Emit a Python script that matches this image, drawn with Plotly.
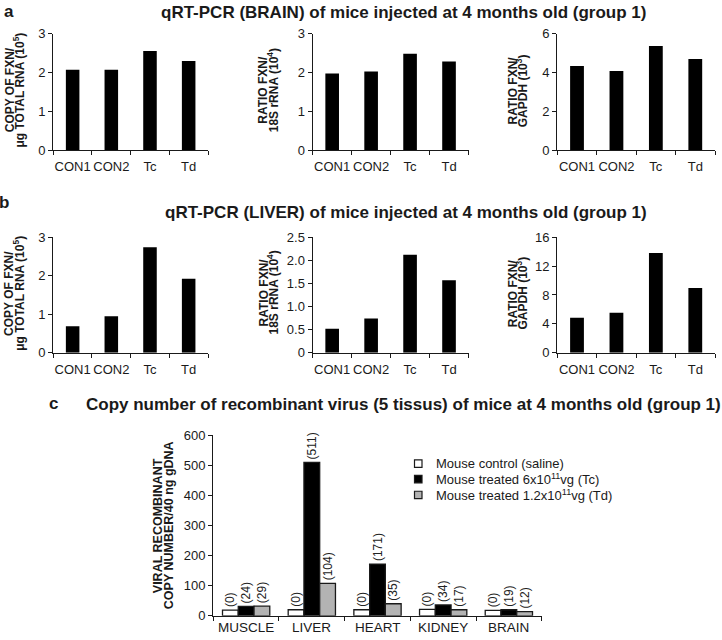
import plotly.graph_objects as go

W, H = 722, 640

# ---------------- data ----------------
groups = ["CON1", "CON2", "Tc", "Td"]
brain_copy = [2.07, 2.07, 2.55, 2.29]      # copy FXN / ug total RNA (10^5)
brain_18s = [1.97, 2.02, 2.48, 2.28]       # ratio FXN / 18S rRNA (10^4)
brain_gapdh = [4.33, 4.07, 5.36, 4.69]     # ratio FXN / GAPDH (10^3)
liver_copy = [0.69, 0.95, 2.74, 1.92]
liver_18s = [0.52, 0.74, 2.12, 1.57]
liver_gapdh = [4.85, 5.55, 13.8, 8.95]

tissues = ["MUSCLE", "LIVER", "HEART", "KIDNEY", "BRAIN"]
ctrl_height = [19, 20, 20, 21, 18]
tc_height = [31, 510, 172, 36, 20]
td_height = [32, 108, 40, 20, 14]
ctrl_labels = ["(0)", "(0)", "(0)", "(0)", "(0)"]
tc_labels = ["(24)", "(511)", "(171)", "(34)", "(19)"]
td_labels = ["(29)", "(104)", "(35)", "(17)", "(12)"]

legend_names = ["Mouse control (saline)",
                "Mouse treated 6x10<sup>11</sup>vg (Tc)",
                "Mouse treated 1.2x10<sup>11</sup>vg (Td)"]

# ---------------- helpers ----------------
FONT = "Liberation Sans, Arial, sans-serif"
INK = "#1a1a1a"


def px(x):
    return x / W


def fy(y):
    # the page photo is taken with a small vertical inset; pre-compensate
    return y * 656 / 640 - 8


def py(y):
    return 1 - fy(y) / H


fig = go.Figure()

panels = [
    # (values, axis index, x-domain px, y-domain px, yrange, tickvals, ticktext)
    (brain_copy, 1, (53.3, 208.0), (34.3, 150.7), [0, 3], [0, 1, 2, 3], None),
    (brain_18s, 2, (312.7, 468.5), (34.3, 150.7), [0, 3], [0, 1, 2, 3], None),
    (brain_gapdh, 3, (557.3, 715.0), (34.3, 150.7), [0, 6], [0, 2, 4, 6], None),
    (liver_copy, 4, (53.3, 208.0), (237.7, 353.3), [0, 3], [0, 1, 2, 3], None),
    (liver_18s, 5, (312.7, 468.5), (237.7, 353.3), [0, 2.5],
     [0, 0.5, 1, 1.5, 2, 2.5], ["0", "0.5", "1.0", "1.5", "2.0", "2.5"]),
    (liver_gapdh, 6, (557.3, 715.0), (237.7, 353.3), [0, 16], [0, 4, 8, 12, 16], None),
]

axis_common = dict(showline=True, linecolor=INK, linewidth=1.3, ticks="outside",
                   ticklen=4, tickwidth=1.2, tickcolor=INK, showgrid=False,
                   zeroline=False, fixedrange=True, tickangle=0,
                   tickfont=dict(family=FONT, size=13, color=INK))

layout_axes = {}
for vals, i, xd, yd, yr, tv, tt in panels:
    xa = "x" if i == 1 else f"x{i}"
    ya = "y" if i == 1 else f"y{i}"
    fig.add_trace(go.Bar(x=groups, y=vals, xaxis=xa, yaxis=ya, width=0.35,
                         marker=dict(color="black", line=dict(width=0)),
                         showlegend=False, hoverinfo="skip"))
    xk = "xaxis" if i == 1 else f"xaxis{i}"
    yk = "yaxis" if i == 1 else f"yaxis{i}"
    layout_axes[xk] = dict(axis_common, type="category", tickson="boundaries",
                           domain=[px(xd[0]), px(xd[1])], anchor=ya,
                           range=[-0.5, 3.5], ticklabelstandoff=4)
    yd_ = dict(axis_common, domain=[py(yd[1]), py(yd[0])], anchor=xa,
               range=yr, tickvals=tv)
    if tt:
        yd_["ticktext"] = tt
    layout_axes[yk] = yd_

# panel c
series = [
    (ctrl_height, ctrl_labels, "white", -0.36),
    (tc_height, tc_labels, "black", -0.12),
    (td_height, td_labels, "#b3b3b3", 0.12),
]
for h, lab, col, off in series:
    fig.add_trace(go.Bar(x=tissues, y=h, xaxis="x7", yaxis="y7",
                         width=0.24, offset=off,
                         marker=dict(color=col, line=dict(color=INK, width=1.3)),
                         text=lab, textposition="outside", textangle=-90,
                         constraintext="none", cliponaxis=False,
                         textfont=dict(family=FONT, size=12, color="#222"),
                         showlegend=False, hoverinfo="skip"))

layout_axes["xaxis7"] = dict(axis_common, type="category", tickson="boundaries",
                             domain=[px(213.3), px(541.7)], anchor="y7",
                             range=[-0.5, 4.5], showticklabels=False)
layout_axes["yaxis7"] = dict(axis_common, domain=[py(616.0), py(435.7)],
                             anchor="x7", range=[0, 600],
                             tickvals=[0, 100, 200, 300, 400, 500, 600])

annotations = []


def ann(text, x, y, size, angle=0, xanchor="center", bold=True):
    annotations.append(dict(text=f"<b>{text}</b>" if bold else text,
                            x=px(x), y=py(y), xref="paper", yref="paper",
                            showarrow=False, textangle=angle,
                            xanchor=xanchor, yanchor="middle",
                            font=dict(family=FONT, size=size, color=INK)))


# panel letters and titles
ann("a", 8.5, 12.7, 17)
ann("qRT-PCR (BRAIN) of mice injected at 4 months old (group 1)", 403.5, 13.7, 17)
ann("b", 4, 203, 17)
ann("qRT-PCR (LIVER) of mice injected at 4 months old (group 1)", 405.5, 213, 17)
ann("c", 53.5, 404, 17)
ann("Copy number of recombinant virus (5 tissus) of mice at 4 months old (group 1)",
    403.5, 405, 17)

# category labels of panel c (kept inside the photographed area)
for t in tissues:
    annotations.append(dict(text=t, x=t, xref="x7", y=1 - 635 / H, yref="paper",
                            showarrow=False, xanchor="center", yanchor="middle",
                            font=dict(family=FONT, size=13.5, color=INK)))

# y-axis titles (two rotated lines each)
ytitles = [
    ("COPY OF FXN/", "μg TOTAL RNA (10<sup>5</sup>)", 10, 19.3, 91, 12),
    ("RATIO FXN/", "18S rRNA (10<sup>4</sup>)", 263.5, 273, 91, 12),
    ("RATIO FXN/", "GAPDH (10<sup>3</sup>)", 512.7, 521.5, 91.5, 12),
    ("COPY OF FXN/", "μg TOTAL RNA (10<sup>5</sup>)", 9.5, 19.3, 294, 12),
    ("RATIO FXN/", "18S rRNA (10<sup>4</sup>)", 264, 273, 293, 12),
    ("RATIO FXN/", "GAPDH (10<sup>3</sup>)", 513.3, 521.5, 293.5, 12),
    ("VIRAL RECOMBINANT", "COPY NUMBER/40 ng gDNA", 157.5, 168.5, 526, 12.5),
]
for l1, l2, x1, x2, yc, fs in ytitles:
    ann(l1, x1, yc, fs, angle=-90)
    ann(l2, x2, yc, fs, angle=-90)

# legend for panel c (manual)
shapes = []
legend_rows = [464, 479.5, 495.3]
legend_cols = ["white", "black", "#b3b3b3"]
for name, yc, col in zip(legend_names, legend_rows, legend_cols):
    shapes.append(dict(type="rect", xref="paper", yref="paper",
                       x0=px(414.5), x1=px(422), y0=py(yc + 3.7), y1=py(yc - 3.7),
                       fillcolor=col, line=dict(color=INK, width=1.2)))
    ann(name, 434, yc, 13, xanchor="left", bold=False)

fig.update_layout(
    width=W, height=H,
    margin=dict(l=0, r=0, t=0, b=0),
    paper_bgcolor="white", plot_bgcolor="white",
    barmode="overlay",
    annotations=annotations, shapes=shapes,
    font=dict(family=FONT, color=INK),
    **layout_axes,
)

# remove the default page margin synchronously (before the load event)
page_fix = ("document.documentElement.style.margin='0';"
            "document.body.style.margin='0';"
            "document.body.style.padding='0';"
            "document.body.style.overflow='hidden';")
fig.write_html("out.html",
               config={"displayModeBar": False},
               post_script="});" + page_fix + "(function(){" + page_fix)
